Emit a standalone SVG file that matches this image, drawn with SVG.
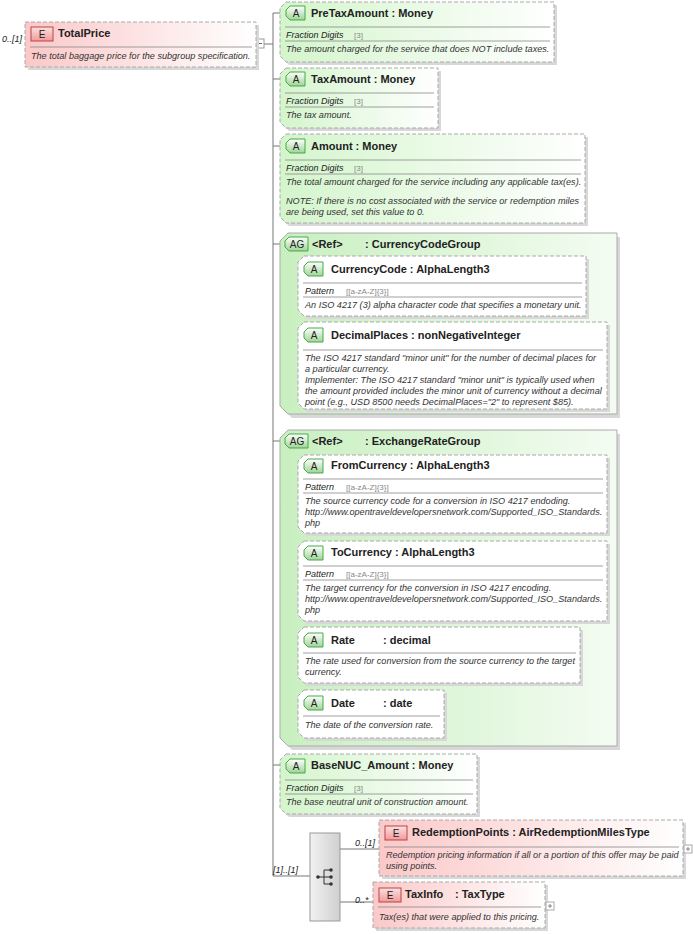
<svg xmlns="http://www.w3.org/2000/svg" width="693" height="934" viewBox="0 0 693 934">
<defs>
<linearGradient id="gA" x1="0" y1="0" x2="1" y2="0"><stop offset="0" stop-color="#d4f5cc"/><stop offset="1" stop-color="#ffffff"/></linearGradient>
<linearGradient id="gAG" x1="0" y1="0" x2="1" y2="0"><stop offset="0" stop-color="#c8efc0"/><stop offset="1" stop-color="#f4fcf2"/></linearGradient>
<linearGradient id="gE" x1="0" y1="0" x2="1" y2="0"><stop offset="0" stop-color="#fbc8c8"/><stop offset="1" stop-color="#ffffff"/></linearGradient>
<linearGradient id="gBadgeA" x1="0" y1="0" x2="0" y2="1"><stop offset="0" stop-color="#ffffff"/><stop offset="1" stop-color="#9fd497"/></linearGradient>
<linearGradient id="gBadgeE" x1="0" y1="0" x2="0" y2="1"><stop offset="0" stop-color="#fde0e0"/><stop offset="1" stop-color="#f09a9a"/></linearGradient>
<linearGradient id="gSeq" x1="0" y1="0" x2="1" y2="0"><stop offset="0" stop-color="#f2f2f2"/><stop offset="1" stop-color="#cfcfcf"/></linearGradient>
</defs>
<style>
text{font-family:"Liberation Sans",Arial,sans-serif;fill:#222}
.t{font-size:11px;font-weight:bold}
.d{font-size:9.1px;font-style:italic;fill:#333}
.f{font-size:9px;font-style:italic}
.v{font-size:8px;fill:#888}
.m{font-size:9px;font-style:italic}
.b{font-size:10px;text-anchor:middle}
.box{stroke:#aaa;stroke-dasharray:4,2;stroke-width:1}
.sep{stroke:#888;stroke-width:0.8}
.ln{stroke:#777;fill:none;stroke-width:1}
.sh{fill:#d8d8d8}
</style>
<g id="connectors">
<path class="ln" d="M263 44H273M273 13V876M273 13H280M273 79H280M273 146H280M273 244H280M273 441H280M273 765H280M273 876H310M290 268V397M290 268H298M290 334H298M290 466H298M290 466V703M290 552H298M290 640H298M290 703H298M340 849H379M340 902H373"/>
<rect x="255" y="39" width="9" height="9" fill="#fff" stroke="#999"/><path d="M257 43.5H262" stroke="#666"/>
</g>
<g id="TotalPrice">
<text x="2" y="42" class="m">0..[1]</text>
<rect x="28" y="25" width="231" height="45" class="sh"/>
<rect x="25" y="22" width="231" height="45" fill="url(#gE)" class="box"/>
<rect x="31" y="27" width="22" height="14" fill="url(#gBadgeE)" stroke="#b44"/><text x="42" y="38" class="b">E</text>
<text x="58" y="37" class="t">TotalPrice</text>
<line x1="30" y1="47" x2="252" y2="47" class="sep"/>
<text x="31" y="59" class="d">The total baggage price for the subgroup specification.</text>
</g>
<g id="PreTaxAmount">
<path d="M289 5H557V65H289L283 59V11Z" class="sh"/>
<path d="M286 2H554V62H286L280 56V8Z" fill="url(#gA)" class="box"/>
<path d="M290 6H305V20H290L286 16V10Z" fill="url(#gBadgeA)" stroke="#4a4"/><text x="296" y="17" class="b">A</text>
<text x="311" y="17" class="t">PreTaxAmount : Money</text>
<line x1="285" y1="27" x2="550" y2="27" class="sep"/>
<text x="286" y="38" class="f">Fraction Digits</text><text x="354" y="38" class="v">[3]</text>
<line x1="285" y1="41" x2="550" y2="41" class="sep"/>
<text x="286" y="52" class="d">The amount charged for the service that does NOT include taxes.</text>
</g>
<g id="TaxAmount">
<path d="M289 71H441V131H289L283 125V77Z" class="sh"/>
<path d="M286 68H438V128H286L280 122V74Z" fill="url(#gA)" class="box"/>
<path d="M290 72H305V86H290L286 82V76Z" fill="url(#gBadgeA)" stroke="#4a4"/><text x="296" y="83" class="b">A</text>
<text x="311" y="83" class="t">TaxAmount : Money</text>
<line x1="285" y1="93" x2="434" y2="93" class="sep"/>
<text x="286" y="104" class="f">Fraction Digits</text><text x="354" y="104" class="v">[3]</text>
<line x1="285" y1="107" x2="434" y2="107" class="sep"/>
<text x="286" y="118" class="d">The tax amount.</text>
</g>
<g id="Amount">
<path d="M289 137H588V226H289L283 220V143Z" class="sh"/>
<path d="M286 134H585V223H286L280 217V140Z" fill="url(#gA)" class="box"/>
<path d="M290 139H305V153H290L286 149V143Z" fill="url(#gBadgeA)" stroke="#4a4"/><text x="296" y="150" class="b">A</text>
<text x="311" y="150" class="t">Amount  : Money</text>
<line x1="285" y1="160" x2="581" y2="160" class="sep"/>
<text x="286" y="171" class="f">Fraction Digits</text><text x="354" y="171" class="v">[3]</text>
<line x1="285" y1="174" x2="581" y2="174" class="sep"/>
<text x="286" y="185" class="d">The total amount charged for the service including any applicable tax(es).</text>
<text x="286" y="204" class="d">NOTE: If there is no cost associated with the service or redemption miles</text>
<text x="286" y="215" class="d">are being used, set this value to 0.</text>
</g>
<g id="CurrencyCodeGroup">
<path d="M292 237H620V418H292L284 410V245Z" class="sh"/>
<path d="M288 233H617V414H288L280 406V241Z" fill="url(#gAG)" stroke="#aaa"/>
<path d="M289 237H308V251H289L285 247V241Z" fill="url(#gBadgeA)" stroke="#4a4"/><text x="297" y="248" class="b">AG</text>
<text x="312" y="248" class="t">&lt;Ref&gt;</text><text x="365" y="248" class="t">: CurrencyCodeGroup</text>
</g>
<g id="CurrencyCode">
<path d="M307 259H589V319H307L301 313V265Z" class="sh"/>
<path d="M304 256H586V316H304L298 310V262Z" fill="#fff" class="box"/>
<path d="M308 262H323V276H308L304 272V266Z" fill="url(#gBadgeA)" stroke="#4a4"/><text x="314" y="273" class="b">A</text>
<text x="331" y="273" class="t">CurrencyCode : AlphaLength3</text>
<line x1="303" y1="283" x2="582" y2="283" class="sep"/>
<text x="305" y="294" class="f">Pattern</text><text x="346" y="294" class="v">[[a-zA-Z]{3}]</text>
<line x1="303" y1="297" x2="582" y2="297" class="sep"/>
<text x="305" y="308" class="d">An ISO 4217 (3) alpha character code that specifies a monetary unit.</text>
</g>
<g id="DecimalPlaces">
<path d="M307 325H610V412H307L301 406V331Z" class="sh"/>
<path d="M304 322H607V409H304L298 403V328Z" fill="#fff" class="box"/>
<path d="M308 328H323V342H308L304 338V332Z" fill="url(#gBadgeA)" stroke="#4a4"/><text x="314" y="339" class="b">A</text>
<text x="331" y="339" class="t">DecimalPlaces : nonNegativeInteger</text>
<line x1="303" y1="350" x2="603" y2="350" class="sep"/>
<text x="305" y="361" class="d">The ISO 4217 standard "minor unit" for the number of decimal places for</text>
<text x="305" y="372" class="d">a particular currency.</text>
<text x="305" y="383" class="d">Implementer: The ISO 4217 standard "minor unit" is typically used when</text>
<text x="305" y="394" class="d">the amount provided includes the minor unit of currency without a decimal</text>
<text x="305" y="405" class="d">point (e.g., USD 8500 needs DecimalPlaces="2" to represent $85).</text>
</g>
<g id="ExchangeRateGroup">
<path d="M292 434H620V750H292L284 742V442Z" class="sh"/>
<path d="M288 430H617V746H288L280 738V438Z" fill="url(#gAG)" stroke="#aaa"/>
<path d="M289 434H308V448H289L285 444V438Z" fill="url(#gBadgeA)" stroke="#4a4"/><text x="297" y="445" class="b">AG</text>
<text x="312" y="445" class="t">&lt;Ref&gt;</text><text x="365" y="445" class="t">: ExchangeRateGroup</text>
</g>
<g id="FromCurrency">
<path d="M307 458H610V536H307L301 530V464Z" class="sh"/>
<path d="M304 455H607V533H304L298 527V461Z" fill="#fff" class="box"/>
<path d="M308 459H323V473H308L304 469V463Z" fill="url(#gBadgeA)" stroke="#4a4"/><text x="314" y="470" class="b">A</text>
<text x="331" y="469" class="t">FromCurrency : AlphaLength3</text>
<line x1="303" y1="479" x2="603" y2="479" class="sep"/>
<text x="305" y="490" class="f">Pattern</text><text x="346" y="490" class="v">[[a-zA-Z]{3}]</text>
<line x1="303" y1="493" x2="603" y2="493" class="sep"/>
<text x="305" y="504" class="d">The source currency code for a conversion in  ISO 4217 endoding.</text>
<text x="305" y="515" class="d">http://www.opentraveldevelopersnetwork.com/Supported_ISO_Standards.</text>
<text x="305" y="526" class="d">php</text>
</g>
<g id="ToCurrency">
<path d="M307 544H610V624H307L301 618V550Z" class="sh"/>
<path d="M304 541H607V621H304L298 615V547Z" fill="#fff" class="box"/>
<path d="M308 546H323V560H308L304 556V550Z" fill="url(#gBadgeA)" stroke="#4a4"/><text x="314" y="557" class="b">A</text>
<text x="331" y="556" class="t">ToCurrency : AlphaLength3</text>
<line x1="303" y1="566" x2="603" y2="566" class="sep"/>
<text x="305" y="577" class="f">Pattern</text><text x="346" y="577" class="v">[[a-zA-Z]{3}]</text>
<line x1="303" y1="580" x2="603" y2="580" class="sep"/>
<text x="305" y="591" class="d">The target currency for the conversion in ISO 4217 encoding.</text>
<text x="305" y="602" class="d">http://www.opentraveldevelopersnetwork.com/Supported_ISO_Standards.</text>
<text x="305" y="613" class="d">php</text>
</g>
<g id="Rate">
<path d="M307 630H583V686H307L301 680V636Z" class="sh"/>
<path d="M304 627H580V683H304L298 677V633Z" fill="#fff" class="box"/>
<path d="M308 633H323V647H308L304 643V637Z" fill="url(#gBadgeA)" stroke="#4a4"/><text x="314" y="644" class="b">A</text>
<text x="331" y="644" class="t">Rate</text><text x="383" y="644" class="t">: decimal</text>
<line x1="303" y1="653" x2="576" y2="653" class="sep"/>
<text x="305" y="664" class="d">The rate used for conversion from the source currency to the target</text>
<text x="305" y="675" class="d">currency.</text>
</g>
<g id="Date">
<path d="M307 693H447V741H307L301 735V699Z" class="sh"/>
<path d="M304 690H444V738H304L298 732V696Z" fill="#fff" class="box"/>
<path d="M308 696H323V710H308L304 706V700Z" fill="url(#gBadgeA)" stroke="#4a4"/><text x="314" y="707" class="b">A</text>
<text x="331" y="707" class="t">Date</text><text x="383" y="707" class="t">: date</text>
<line x1="303" y1="716" x2="440" y2="716" class="sep"/>
<text x="305" y="728" class="d">The date of the conversion rate.</text>
</g>
<g id="BaseNUC_Amount">
<path d="M289 757H480V817H289L283 811V763Z" class="sh"/>
<path d="M286 754H477V814H286L280 808V760Z" fill="url(#gA)" class="box"/>
<path d="M290 759H305V773H290L286 769V763Z" fill="url(#gBadgeA)" stroke="#4a4"/><text x="296" y="770" class="b">A</text>
<text x="311" y="769" class="t">BaseNUC_Amount : Money</text>
<line x1="285" y1="780" x2="473" y2="780" class="sep"/>
<text x="286" y="791" class="f">Fraction Digits</text><text x="354" y="791" class="v">[3]</text>
<line x1="285" y1="794" x2="473" y2="794" class="sep"/>
<text x="286" y="805" class="d">The base neutral unit of construction amount.</text>
</g>
<g id="Sequence">
<text x="273" y="873" class="m">[1]..[1]</text>
<rect x="310" y="833" width="30" height="88" fill="url(#gSeq)" stroke="#999"/>
<path d="M318 877H324M324 870V884M324 870H331M324 877H331M324 884H331" stroke="#333" fill="none"/>
<circle cx="318" cy="877" r="1.8" fill="#333"/><circle cx="331" cy="870" r="1.8" fill="#333"/><circle cx="331" cy="877" r="1.8" fill="#333"/><circle cx="331" cy="884" r="1.8" fill="#333"/>
</g>
<g id="RedemptionPoints">
<text x="355" y="846" class="m">0..[1]</text>
<rect x="382" y="823" width="304" height="56" class="sh"/>
<rect x="379" y="820" width="304" height="56" fill="url(#gE)" class="box"/>
<rect x="385" y="826" width="22" height="14" fill="url(#gBadgeE)" stroke="#b44"/><text x="396" y="837" class="b">E</text>
<text x="412" y="836" class="t">RedemptionPoints : AirRedemptionMilesType</text>
<line x1="384" y1="847" x2="679" y2="847" class="sep"/>
<text x="386" y="858" class="d">Redemption pricing information if all or a portion of this offer may be paid</text>
<text x="386" y="869" class="d">using points.</text>
<rect x="684" y="845" width="8" height="8" fill="#fff" stroke="#aaa"/><path d="M686 849H690M688 847V851" stroke="#888"/>
</g>
<g id="TaxInfo">
<text x="355" y="903" class="m">0..*</text>
<rect x="376" y="885" width="172" height="46" class="sh"/>
<rect x="373" y="882" width="172" height="46" fill="url(#gE)" class="box"/>
<rect x="379" y="888" width="22" height="14" fill="url(#gBadgeE)" stroke="#b44"/><text x="390" y="899" class="b">E</text>
<text x="405" y="898" class="t">TaxInfo</text><text x="455" y="898" class="t">: TaxType</text>
<line x1="378" y1="907" x2="541" y2="907" class="sep"/>
<text x="379" y="920" class="d">Tax(es) that were applied to this pricing.</text>
<rect x="546" y="902" width="8" height="8" fill="#fff" stroke="#aaa"/><path d="M548 906H552M550 904V908" stroke="#888"/>
</g>
</svg>
